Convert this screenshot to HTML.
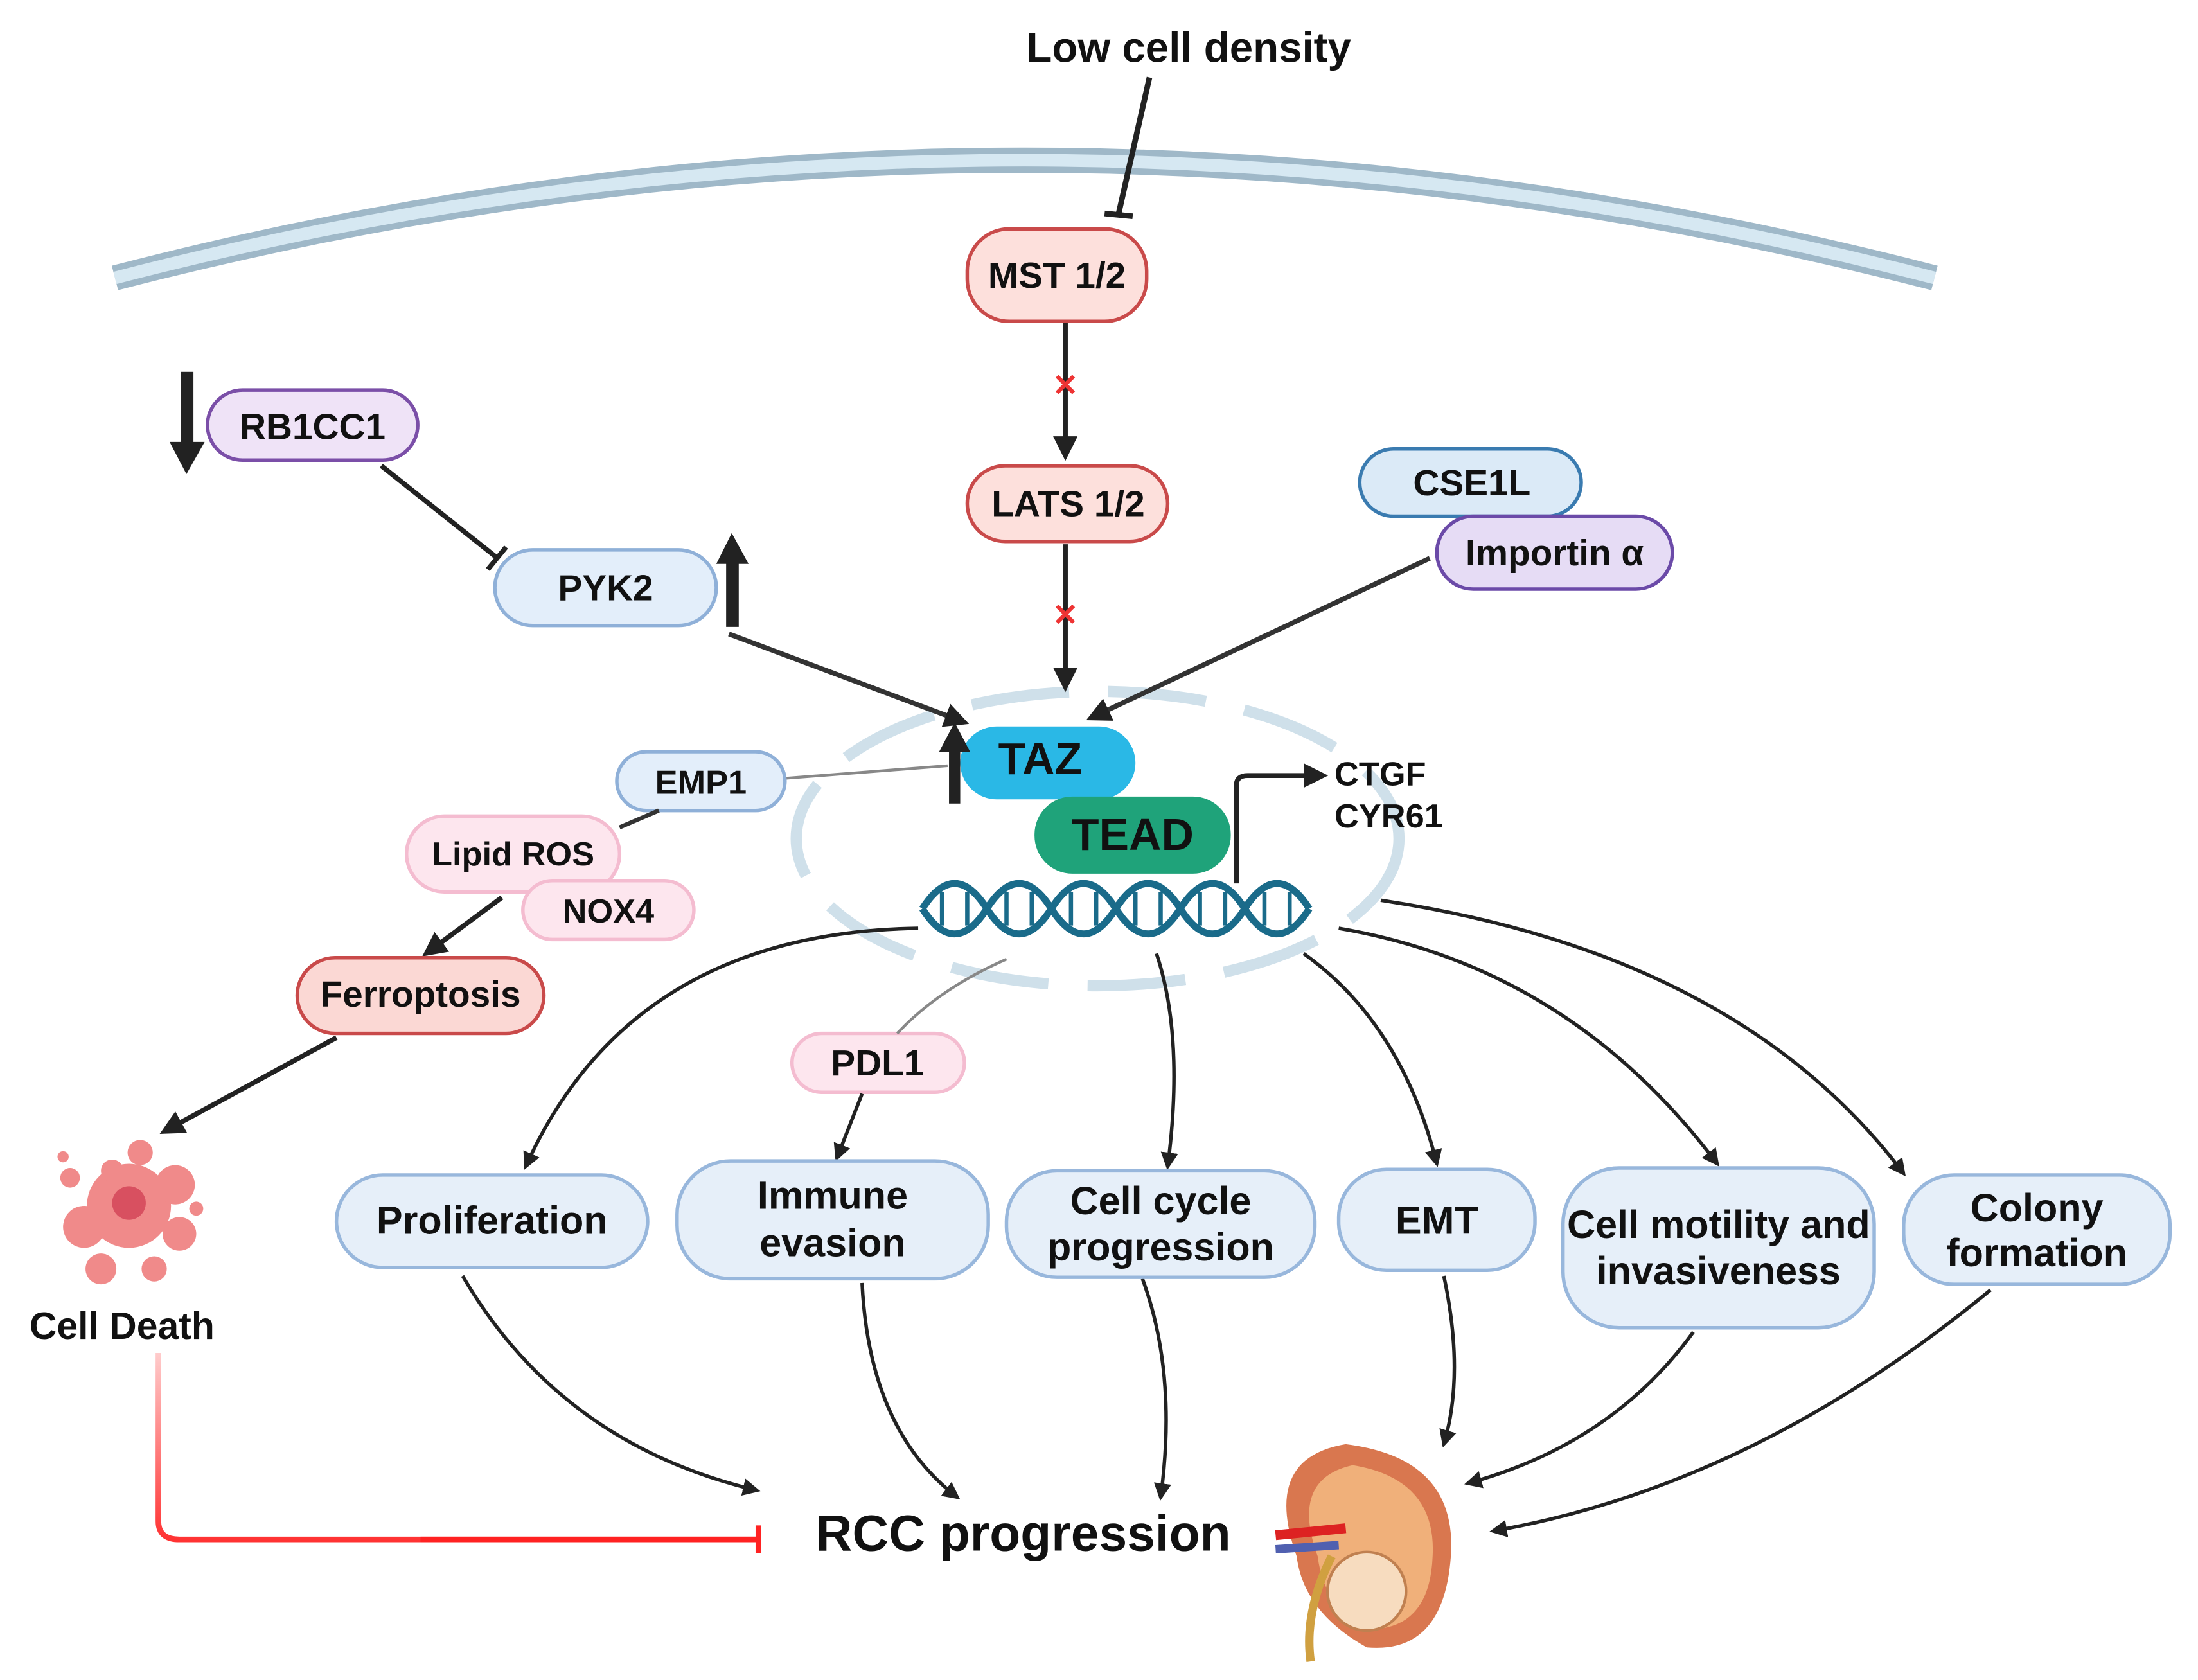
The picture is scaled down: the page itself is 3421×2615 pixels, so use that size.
<!DOCTYPE html>
<html><head><meta charset="utf-8"><style>html,body{margin:0;padding:0;background:#fff}svg{display:block}text{font-family:"Liberation Sans",sans-serif;font-weight:bold;fill:#111}</style></head>
<body>
<svg width="3421" height="2615" viewBox="0 0 1568 1198" xmlns="http://www.w3.org/2000/svg">
<defs>
<marker id="a" viewBox="0 0 10 10" refX="8" refY="5" markerWidth="5" markerHeight="5" orient="auto"><path d="M0,0L10,5L0,10z" fill="#222"/></marker>
<linearGradient id="rl" x1="0" y1="0" x2="0" y2="1"><stop offset="0" stop-color="#fcc"/><stop offset="1" stop-color="#f33"/></linearGradient>
</defs>
<path d="M82,198 Q730,30 1380,198" fill="none" stroke="#9fb8c8" stroke-width="18"/>
<path d="M82,198 Q730,30 1380,198" fill="none" stroke="#d6e8f2" stroke-width="9"/>
<text x="848" y="44" font-size="30" text-anchor="middle">Low cell density</text>
<line x1="820" y1="55" x2="798" y2="152" stroke="#222" stroke-width="4"/>
<line x1="788" y1="152" x2="808" y2="154" stroke="#222" stroke-width="4"/>
<ellipse cx="783" cy="598" rx="215" ry="105" fill="none" stroke="#cfe0ea" stroke-width="8" stroke-dasharray="70,28"/>
<rect x="690" y="163" width="128" height="66" rx="30" fill="#fde0dc" stroke="#c94a4a" stroke-width="2.5"/>
<text x="754" y="205" font-size="26" text-anchor="middle">MST 1/2</text>
<line x1="760" y1="230" x2="760" y2="325" stroke="#222" stroke-width="3.5" marker-end="url(#a)"/>
<text x="760" y="282" font-size="22" text-anchor="middle" style="fill:#e33">✕</text>
<rect x="690" y="332" width="143" height="54" rx="27" fill="#fde0dc" stroke="#c94a4a" stroke-width="2.5"/>
<text x="762" y="368" font-size="26" text-anchor="middle">LATS 1/2</text>
<line x1="760" y1="388" x2="760" y2="490" stroke="#222" stroke-width="3.5" marker-end="url(#a)"/>
<text x="760" y="446" font-size="22" text-anchor="middle" style="fill:#e33">✕</text>
<rect x="129" y="265" width="9" height="52" fill="#222"/>
<polygon points="121,315 146,315 133,338" fill="#222"/>
<rect x="148" y="278" width="150" height="50" rx="25" fill="#efe3f7" stroke="#7b4fa8" stroke-width="2.5"/>
<text x="223" y="313" font-size="26" text-anchor="middle">RB1CC1</text>
<line x1="272" y1="332" x2="355" y2="398" stroke="#222" stroke-width="3.5"/>
<line x1="348" y1="406" x2="361" y2="390" stroke="#222" stroke-width="3.5"/>
<rect x="353" y="392" width="158" height="54" rx="27" fill="#e3eefa" stroke="#8fb0d8" stroke-width="2.5"/>
<text x="432" y="428" font-size="26" text-anchor="middle">PYK2</text>
<rect x="518" y="400" width="9" height="47" fill="#222"/>
<polygon points="511,402 534,402 522,380" fill="#222"/>
<line x1="520" y1="452" x2="688" y2="515" stroke="#333" stroke-width="3.5" marker-end="url(#a)"/>
<rect x="970" y="320" width="158" height="48" rx="24" fill="#dbeaf7" stroke="#3a7bb0" stroke-width="2.5"/>
<text x="1050" y="353" font-size="26" text-anchor="middle">CSE1L</text>
<rect x="1025" y="368" width="168" height="52" rx="26" fill="#e6dcf5" stroke="#6b4aa8" stroke-width="2.5"/>
<text x="1109" y="403" font-size="26" text-anchor="middle">Importin α</text>
<line x1="1020" y1="398" x2="778" y2="512" stroke="#333" stroke-width="3.5" marker-end="url(#a)"/>
<rect x="685" y="518" width="125" height="52" rx="26" fill="#2ab8e6"/>
<text x="742" y="552" font-size="32" text-anchor="middle">TAZ</text>
<rect x="677" y="533" width="8" height="40" fill="#222"/>
<polygon points="670,536 692,536 681,515" fill="#222"/>
<rect x="738" y="568" width="140" height="55" rx="27" fill="#1fa37a"/>
<text x="808" y="606" font-size="32" text-anchor="middle">TEAD</text>
<!-- DNA -->
<path d="M658,648 Q681,612 704,648 T750,648 T796,648 T842,648 T888,648 T934,648" fill="none" stroke="#1a6b8a" stroke-width="5"/>
<path d="M658,648 Q681,684 704,648 T750,648 T796,648 T842,648 T888,648 T934,648" fill="none" stroke="#1a6b8a" stroke-width="5"/>
<g stroke="#1a6b8a" stroke-width="3">
<line x1="672" y1="636" x2="672" y2="660"/><line x1="690" y1="636" x2="690" y2="660"/>
<line x1="718" y1="636" x2="718" y2="660"/><line x1="736" y1="636" x2="736" y2="660"/>
<line x1="764" y1="636" x2="764" y2="660"/><line x1="782" y1="636" x2="782" y2="660"/>
<line x1="810" y1="636" x2="810" y2="660"/><line x1="828" y1="636" x2="828" y2="660"/>
<line x1="856" y1="636" x2="856" y2="660"/><line x1="874" y1="636" x2="874" y2="660"/>
<line x1="902" y1="636" x2="902" y2="660"/><line x1="920" y1="636" x2="920" y2="660"/></g>
<path d="M882,630 L882,560 Q882,553 890,553 L944,553" fill="none" stroke="#222" stroke-width="3.5" marker-end="url(#a)"/>
<text x="952" y="560" font-size="24">CTGF</text>
<text x="952" y="590" font-size="24">CYR61</text>
<line x1="560" y1="555" x2="676" y2="546" stroke="#888" stroke-width="2"/>
<rect x="440" y="536" width="120" height="42" rx="21" fill="#e3eefa" stroke="#8fb0d8" stroke-width="2.5"/>
<text x="500" y="566" font-size="24" text-anchor="middle">EMP1</text>
<line x1="442" y1="590" x2="470" y2="578" stroke="#333" stroke-width="3"/>
<rect x="290" y="582" width="152" height="54" rx="27" fill="#fde6ee" stroke="#f4bcd0" stroke-width="2.5"/>
<text x="366" y="617" font-size="24" text-anchor="middle">Lipid ROS</text>
<rect x="373" y="628" width="122" height="42" rx="21" fill="#fde6ee" stroke="#f4bcd0" stroke-width="2.5"/>
<text x="434" y="658" font-size="24" text-anchor="middle">NOX4</text>
<line x1="358" y1="640" x2="304" y2="680" stroke="#222" stroke-width="3.5" marker-end="url(#a)"/>
<rect x="212" y="683" width="176" height="54" rx="27" fill="#fbd8d4" stroke="#c94a4a" stroke-width="2.5"/>
<text x="300" y="718" font-size="26" text-anchor="middle">Ferroptosis</text>
<line x1="240" y1="740" x2="117" y2="807" stroke="#222" stroke-width="3.5" marker-end="url(#a)"/>
<g fill="#f08a8a"><circle cx="92" cy="860" r="30"/><circle cx="60" cy="875" r="15"/><circle cx="125" cy="845" r="14"/><circle cx="128" cy="880" r="12"/><circle cx="72" cy="905" r="11"/><circle cx="110" cy="905" r="9"/><circle cx="50" cy="840" r="7"/><circle cx="100" cy="822" r="9"/><circle cx="45" cy="825" r="4"/><circle cx="140" cy="862" r="5"/><circle cx="80" cy="835" r="8"/></g>
<circle cx="92" cy="858" r="12" fill="#d85060"/>
<text x="87" y="955" font-size="27" text-anchor="middle">Cell Death</text>
<path d="M113,965 L113,1085 Q113,1098 128,1098 L540,1098" fill="none" stroke="url(#rl)" stroke-width="4"/>
<path d="M300,1098 L540,1098" stroke="#f22" stroke-width="4"/>
<line x1="541" y1="1088" x2="541" y2="1108" stroke="#f22" stroke-width="4"/>
<rect x="565" y="737" width="123" height="42" rx="21" fill="#fde6ee" stroke="#f4bcd0" stroke-width="2.5"/>
<text x="626" y="767" font-size="26" text-anchor="middle">PDL1</text>
<g fill="none" stroke="#222" stroke-width="2.5" marker-end="url(#a)">
<path d="M655,662 Q450,665 375,832"/>
<path d="M615,780 L597,826"/>
<path d="M825,680 Q845,740 833,832"/>
<path d="M930,680 Q1000,730 1025,830"/>
<path d="M955,662 Q1120,690 1225,830"/>
<path d="M985,642 Q1240,680 1358,837"/>
<path d="M330,910 Q400,1030 540,1063"/>
<path d="M615,915 Q620,1020 683,1068"/>
<path d="M815,912 Q840,980 828,1068"/>
<path d="M1030,910 Q1045,980 1030,1030"/>
<path d="M1208,950 Q1150,1030 1047,1058"/>
<path d="M1420,920 Q1250,1060 1065,1092"/>
</g>
<path d="M718,684 Q670,705 640,737" fill="none" stroke="#888" stroke-width="2"/>
<g fill="#e6eff9" stroke="#98b7dc" stroke-width="2.5">
<rect x="240" y="838" width="222" height="66" rx="33"/>
<rect x="483" y="828" width="222" height="84" rx="38"/>
<rect x="718" y="835" width="220" height="76" rx="36"/>
<rect x="955" y="834" width="140" height="72" rx="34"/>
<rect x="1115" y="833" width="222" height="114" rx="40"/>
<rect x="1358" y="838" width="190" height="78" rx="36"/>
</g>
<g font-size="28" text-anchor="middle">
<text x="351" y="880">Proliferation</text>
<text x="594" y="862">Immune</text><text x="594" y="896">evasion</text>
<text x="828" y="866">Cell cycle</text><text x="828" y="899">progression</text>
<text x="1025" y="880">EMT</text>
<text x="1226" y="883">Cell motility and</text><text x="1226" y="916">invasiveness</text>
<text x="1453" y="871">Colony</text><text x="1453" y="903">formation</text>
</g>
<text x="730" y="1106" font-size="36" text-anchor="middle">RCC progression</text>
<path d="M960,1030 Q900,1040 925,1110 Q930,1150 975,1175 Q1030,1180 1035,1110 Q1040,1040 960,1030z" fill="#d9774f"/>
<path d="M965,1045 Q920,1055 940,1110 Q945,1150 980,1162 Q1020,1160 1022,1110 Q1025,1055 965,1045z" fill="#f0b07a"/>
<circle cx="975" cy="1135" r="28" fill="#f7dcbf" stroke="#c08050" stroke-width="2"/>
<path d="M910,1095 L960,1090" stroke="#d22" stroke-width="7"/>
<path d="M910,1105 L955,1102" stroke="#5060b0" stroke-width="6"/>
<path d="M950,1110 Q930,1150 935,1185" stroke="#d0a040" stroke-width="6" fill="none"/>
</svg>
</body></html>
